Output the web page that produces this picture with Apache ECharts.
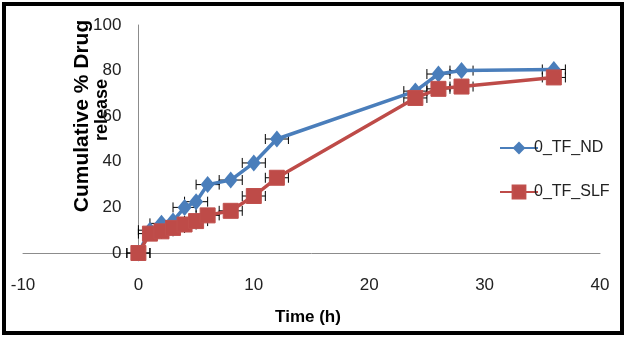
<!DOCTYPE html>
<html>
<head>
<meta charset="utf-8">
<script src="https://cdn.jsdelivr.net/npm/echarts@6/dist/echarts.min.js"></script>
<style>
html,body{margin:0;padding:0;background:#fff;}
#frame{position:absolute;left:2px;top:2px;width:614px;height:325px;border:4px solid #000;}
#chart{position:absolute;left:0;top:0;width:626px;height:337px;}
</style>
</head>
<body>
<div id="frame"></div>
<div id="chart"></div>
<script>
const timeH = [0, 1, 2, 3, 4, 5, 6, 8, 10, 12, 24, 26, 28, 36];
const seriesNames = ['0_TF_ND', '0_TF_SLF'];
const valuesND = [0, 10, 13, 14, 20, 22.5, 30, 32, 39.5, 50, 71, 78.5, 80, 80.5];
const valuesSLF = [0, 8.5, 9.5, 11, 12.5, 14, 16.5, 18.5, 25, 33, 68, 72, 73, 77];
const xErr = [1, 1, 1, 1, 1, 1, 1, 1, 1, 1, 1, 1, 1, 1];
const xTicks = [-10, 0, 10, 20, 30, 40];
const yTicks = [0, 20, 40, 60, 80, 100];
const xTitle = 'Time (h)';
const yTitleLines = ['Cumulative % Drug', 'release'];

const font = "'Liberation Sans Narrow', 'Liberation Sans', Arial, sans-serif";
const gridLeft = 23, gridRight = 26;
const plotW = 626 - gridLeft - gridRight;
const xMin = xTicks[0], xMax = xTicks[xTicks.length - 1];
// shift the y axis so it sits at x = 0 of the x scale
const yAxisOffset = -plotW * (0 - xMin) / (xMax - xMin);

function errData(vals) {
  return timeH.map((t, i) => [t, vals[i], xErr[i]]);
}
function renderErr(params, api) {
  const x = api.value(0), y = api.value(1), e = api.value(2);
  const p1 = api.coord([x - e, y]);
  const p2 = api.coord([x + e, y]);
  const c = 5;
  const st = { stroke: '#000', lineWidth: 1 };
  return {
    type: 'group',
    children: [
      { type: 'line', shape: { x1: p1[0], y1: p1[1], x2: p2[0], y2: p2[1] }, style: st },
      { type: 'line', shape: { x1: p1[0], y1: p1[1] - c, x2: p1[0], y2: p1[1] + c }, style: st },
      { type: 'line', shape: { x1: p2[0], y1: p2[1] - c, x2: p2[0], y2: p2[1] + c }, style: st }
    ]
  };
}

const chart = echarts.init(document.getElementById('chart'));
chart.setOption({
  animation: false,
  backgroundColor: 'transparent',
  grid: { left: gridLeft, right: gridRight, top: 25, bottom: 84, containLabel: false, outerBoundsMode: 'none' },
  xAxis: {
    type: 'value', min: xMin, max: xMax, interval: 10,
    axisLine: { show: true, onZero: true, lineStyle: { color: '#8c8c8c', width: 1 } },
    axisTick: { show: false },
    splitLine: { show: false },
    axisLabel: { margin: 24, fontSize: 17, color: '#222', fontFamily: font }
  },
  yAxis: {
    type: 'value', min: yTicks[0], max: yTicks[yTicks.length - 1], interval: 20,
    offset: yAxisOffset,
    axisLine: { show: true, onZero: false, lineStyle: { color: '#8c8c8c', width: 1 } },
    axisTick: { show: false },
    splitLine: { show: false },
    axisLabel: { margin: 17, fontSize: 17, color: '#222', fontFamily: font }
  },
  legend: {
    orient: 'vertical', left: 494, top: 135, itemGap: 28,
    itemWidth: 38, itemHeight: 16,
    textStyle: { fontSize: 16, color: '#222', fontFamily: font, padding: [0, 0, 0, -9] },
    data: seriesNames
  },
  graphic: [
    { type: 'text', x: 82, y: 116, rotation: Math.PI / 2, style: { text: yTitleLines[0], font: "bold 21px 'Liberation Sans', Arial, sans-serif", fill: '#000', textAlign: 'center', textVerticalAlign: 'middle' } },
    { type: 'text', x: 102, y: 110, rotation: Math.PI / 2, style: { text: yTitleLines[1], font: "bold 18px 'Liberation Sans', Arial, sans-serif", fill: '#000', textAlign: 'center', textVerticalAlign: 'middle' } },
    { type: 'text', x: 308, y: 317, style: { text: xTitle, font: "bold 17px 'Liberation Sans Narrow', 'Liberation Sans', Arial, sans-serif", fill: '#000', textAlign: 'center', textVerticalAlign: 'middle' } }
  ],
  series: [
    { type: 'custom', renderItem: renderErr, data: errData(valuesND), z: 1, silent: true },
    { type: 'custom', renderItem: renderErr, data: errData(valuesSLF), z: 1, silent: true },
    {
      name: seriesNames[0], type: 'line', data: timeH.map((t, i) => [t, valuesND[i]]),
      symbol: 'diamond', symbolSize: [14, 17], showAllSymbol: true,
      lineStyle: { color: '#4a7ebb', width: 3.5 },
      itemStyle: { color: '#4a7ebb' }, z: 3
    },
    {
      name: seriesNames[1], type: 'line', data: timeH.map((t, i) => [t, valuesSLF[i]]),
      symbol: 'rect', symbolSize: 15, showAllSymbol: true,
      lineStyle: { color: '#be4b48', width: 3.5 },
      itemStyle: { color: '#be4b48', borderColor: '#c0504d', borderWidth: 1 }, z: 4
    }
  ]
});
</script>
</body>
</html>
